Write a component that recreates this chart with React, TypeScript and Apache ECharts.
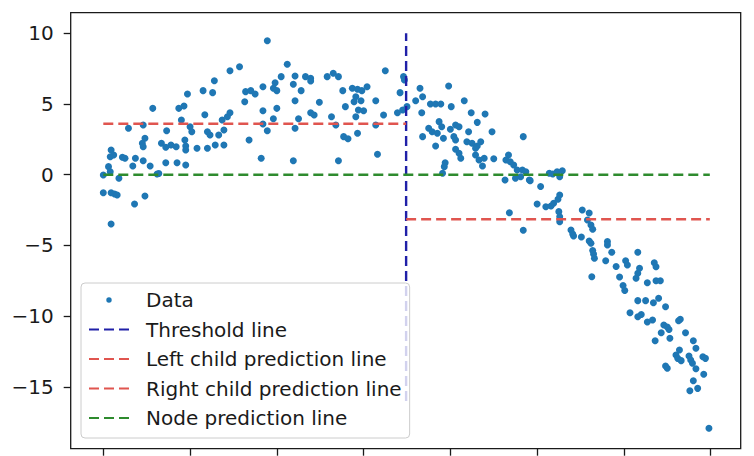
import React, { useEffect, useRef } from "react";
import * as echarts from "echarts";

// Scatter data: [x, y]
const dataPoints: number[][] = [
  [0.0, -1.27], [0.0, -0.02], [0.06, 0.57], [0.08, 0.21], [0.09, 1.75], [0.08, 1.27], [0.12, 1.39],
  [0.09, -1.27], [0.13, -1.36], [0.16, -1.43], [0.18, -0.25], [0.09, -3.48], [0.22, 1.23], [0.25, 1.16],
  [0.29, 3.28], [0.34, 0.61], [0.36, -2.07], [0.37, 1.16], [0.46, 3.51], [0.46, 0.99], [0.48, -1.51],
  [0.48, 2.57], [0.45, 2.22], [0.46, 1.98], [0.54, 0.61], [0.57, 4.69], [0.62, 0.05], [0.64, 0.08],
  [0.67, 2.22], [0.72, 1.94], [0.72, 0.85], [0.73, 3.11], [0.78, 2.1], [0.84, 1.98], [0.85, 0.85],
  [0.87, 4.69], [0.93, 4.86], [0.9, 3.87], [0.94, 2.45], [0.95, 2.03], [0.95, 1.75], [0.95, 0.69],
  [0.97, 5.7], [1.0, 3.39], [1.02, 3.04], [1.08, 1.87], [1.15, 5.94], [1.17, 4.24], [1.2, 3.04],
  [1.23, 2.81], [1.2, 1.87], [1.26, 5.8], [1.28, 6.64], [1.29, 2.1], [1.33, 2.81], [1.39, 3.16],
  [1.39, 2.1], [1.37, 3.87], [1.43, 4.1], [1.46, 4.38], [1.46, 7.35], [1.57, 7.63], [1.63, 5.16],
  [1.64, 5.87], [1.7, 5.94], [1.75, 5.7], [1.68, 2.45], [1.82, 1.16], [1.84, 6.22], [1.84, 4.52],
  [1.84, 3.58], [1.89, 3.11], [1.89, 9.47], [1.96, 3.96], [1.98, 6.5], [1.96, 6.11], [2.0, 5.94],
  [2.0, 4.69], [2.05, 6.93], [2.12, 7.8], [2.19, 6.39], [2.21, 5.23], [2.19, 0.99], [2.21, 6.98],
  [2.21, 3.28], [2.25, 3.96], [2.28, 5.94], [2.33, 6.93], [2.39, 6.81], [2.39, 6.62], [2.39, 4.38],
  [2.43, 4.22], [2.49, 5.12], [2.58, 6.93], [2.65, 7.17], [2.71, 6.93], [2.63, 4.1], [2.68, 3.51],
  [2.71, 0.99], [2.76, 5.94], [2.77, 2.69], [2.82, 2.54], [2.79, 4.81], [2.87, 6.11], [2.93, 6.04],
  [2.98, 5.94], [3.04, 6.22], [2.91, 5.51], [2.89, 5.16], [2.97, 5.23], [2.93, 2.93], [2.94, 4.57],
  [3.0, 4.52], [2.91, 4.1], [3.14, 5.23], [3.14, 3.51], [3.16, 1.44], [3.23, 4.22], [3.25, 7.35],
  [3.39, 4.38], [3.42, 5.8], [3.46, 6.93], [3.45, 4.57], [3.5, 4.81], [3.47, 6.7],
  [3.6, 5.23], [3.65, 6.11], [3.68, 5.51], [3.67, 4.38], [3.68, 2.69], [3.75, 3.28], [3.79, 3.04],
  [3.85, 2.93], [3.92, 2.57], [3.77, 5.0], [3.83, 5.0], [3.89, 5.0], [3.83, 2.03], [3.87, 3.75],
  [3.9, 3.39], [3.98, 6.27], [4.01, 4.81], [4.0, 3.21], [4.06, 3.51], [4.1, 3.39], [4.04, 2.69],
  [4.06, 2.45], [4.06, 1.8], [4.1, 1.51], [4.12, 1.16], [3.94, 0.85], [3.93, 0.57], [3.91, 0.1],
  [4.16, 5.23], [4.21, 3.04], [4.19, 2.33], [4.25, 2.22], [4.31, 2.03], [4.35, 2.33], [4.29, 1.87],
  [4.24, 4.38], [4.31, 3.7], [4.4, 4.29], [4.29, 1.39], [4.33, 1.04], [4.37, 0.61], [4.39, 1.16],
  [4.48, 3.04], [4.5, 1.13], [4.67, 1.39], [4.64, 1.04], [4.69, 0.92], [4.73, 0.69], [4.77, 0.33],
  [4.83, 0.33], [4.87, 0.21], [4.81, -0.14], [4.75, -0.25], [4.63, -0.37], [4.91, -0.37], [4.84, 2.69],
  [5.04, -0.83], [4.92, -0.42], [5.14, 0.1], [5.18, 0.05], [5.23, 0.21], [5.29, 0.28], [5.26, -0.14],
  [5.0, -2.07], [5.1, -2.26], [5.16, -2.21], [5.19, -2.02], [5.24, -1.74], [5.26, -1.43], [5.25, -2.61],
  [5.26, -2.97], [5.26, -3.32], [4.68, -2.69], [4.84, -3.93], [5.52, -2.49], [5.6, -2.71], [5.58, -3.2],
  [5.62, -3.55], [5.64, -3.86], [5.39, -3.91], [5.41, -4.19], [5.42, -4.33], [5.51, -4.4], [5.6, -4.69],
  [5.62, -4.85], [5.81, -4.73], [5.81, -4.97], [5.64, -5.36], [5.65, -5.6], [5.66, -5.91], [5.86, -5.48],
  [6.16, -5.48], [5.79, -6.08], [6.02, -6.08], [6.04, -6.38], [5.91, -6.49], [6.35, -6.22], [6.37, -6.5],
  [6.18, -6.61], [6.16, -6.97], [6.14, -7.32], [5.95, -7.23], [5.63, -7.21], [6.27, -7.63], [6.37, -7.49],
  [6.42, -7.49], [5.99, -7.83], [6.01, -8.18], [6.16, -8.9], [6.25, -8.9], [6.34, -9.05], [6.4, -8.73],
  [6.48, -9.33], [6.07, -9.75], [6.16, -10.04], [6.2, -9.88], [6.27, -10.41], [6.33, -10.27],
  [6.46, -10.62], [6.5, -10.76], [6.52, -10.94], [6.65, -10.22], [6.63, -10.32], [6.43, -11.17],
  [6.36, -11.73], [6.53, -11.56], [6.71, -11.17], [6.8, -11.73], [6.83, -12.27], [6.6, -12.74],
  [6.62, -12.98], [6.66, -13.14], [6.64, -12.39], [6.75, -12.81], [6.77, -13.1], [6.79, -13.33],
  [6.91, -12.86], [6.94, -12.98], [6.48, -13.52], [6.5, -13.68], [6.83, -13.71], [6.92, -14.1],
  [6.8, -14.56], [6.76, -15.27], [6.85, -15.1], [6.98, -17.92],
];

const thresholdX = 3.49;
const thresholdYRange = [-16, 10];
const dataXRange = [0, 6.99];
const leftPrediction = 3.6;
const rightPrediction = -3.15;
const nodePrediction = 0.0;

const xTicks = [0, 1, 2, 3, 4, 5, 6, 7];
const yTicks = [-15, -10, -5, 0, 5, 10];

const seriesNames = [
  "Data",
  "Threshold line",
  "Left child prediction line",
  "Right child prediction line",
  "Node prediction line",
];

const COLORS = {
  data: "#1f77b4",
  threshold: "#2020a8",
  red: "#e0554f",
  green: "#2e8b2e",
};

const DASH = [10, 5];
const FONT = "DejaVu Sans";

export default function App() {
  const ref = useRef<HTMLDivElement>(null);

  useEffect(() => {
    if (!ref.current) return;
    const chart = echarts.init(ref.current, undefined, { renderer: "svg" });

    const dashedLine = (name: string, color: string, data: number[][]) => ({
      name,
      type: "line",
      data,
      symbol: "none",
      showSymbol: false,
      z: 3,
      lineStyle: { color, width: 2.4, type: DASH, cap: "butt" },
      itemStyle: { color },
      silent: true,
    });

    const dotIcon =
      "path://M0,0M40,20M17.3,10a2.7,2.7 0 1,0 5.4,0a2.7,2.7 0 1,0 -5.4,0z";
    const hiddenSymbol = {
      color: "rgba(0,0,0,0)",
      borderColor: "rgba(0,0,0,0)",
      borderWidth: 0,
      opacity: 0,
    };

    const option: any = {
      animation: false,
      backgroundColor: "#ffffff",
      grid: {
        left: 70.7,
        right: 13.3,
        top: 12.7,
        bottom: 7.3,
        show: true,
        borderColor: "#1a1a1a",
        borderWidth: 1.3,
        backgroundColor: "transparent",
      },
      xAxis: {
        type: "value",
        min: -0.3757,
        max: 7.346,
        axisLine: { show: false, onZero: false },
        splitLine: { show: false },
        axisTick: {
          show: true,
          inside: false,
          customValues: xTicks,
          length: 7,
          lineStyle: { color: "#1a1a1a", width: 1.3 },
        },
        axisLabel: { show: false, customValues: xTicks },
      },
      yAxis: {
        type: "value",
        min: -19.364,
        max: 11.449,
        axisLine: { show: false, onZero: false },
        splitLine: { show: false },
        axisTick: {
          show: true,
          inside: false,
          customValues: yTicks,
          length: 7,
          lineStyle: { color: "#1a1a1a", width: 1.3 },
        },
        axisLabel: {
          show: true,
          customValues: yTicks,
          margin: 17,
          fontFamily: FONT,
          fontSize: 20,
          color: "#1a1a1a",
          formatter: (v: number) => String(v).replace("-", "\u2212"),
        },
      },
      legend: {
        show: true,
        orient: "vertical",
        left: 81,
        top: 283,
        padding: [7, 8, 10, 7],
        itemWidth: 40,
        itemHeight: 20,
        itemGap: 9.5,
        selectedMode: false,
        backgroundColor: "rgba(255,255,255,0.8)",
        borderColor: "#cccccc",
        borderWidth: 1,
        borderRadius: 4,
        textStyle: {
          fontFamily: FONT,
          fontSize: 20,
          color: "#1a1a1a",
          lineHeight: 20,
          padding: [0, 0, 0, 12],
        },
        data: [
          { name: seriesNames[0], icon: dotIcon },
          { name: seriesNames[1], itemStyle: hiddenSymbol },
          { name: seriesNames[2], itemStyle: hiddenSymbol },
          { name: seriesNames[3], itemStyle: hiddenSymbol },
          { name: seriesNames[4], itemStyle: hiddenSymbol },
        ],
      },
      series: [
        {
          name: seriesNames[0],
          type: "scatter",
          data: dataPoints,
          symbol: "circle",
          symbolSize: 7,
          itemStyle: { color: COLORS.data, opacity: 1 },
          z: 2,
          silent: true,
        },
        dashedLine(seriesNames[1], COLORS.threshold, [
          [thresholdX, thresholdYRange[0]],
          [thresholdX, thresholdYRange[1]],
        ]),
        dashedLine(seriesNames[2], COLORS.red, [
          [dataXRange[0], leftPrediction],
          [thresholdX, leftPrediction],
        ]),
        dashedLine(seriesNames[3], COLORS.red, [
          [thresholdX, rightPrediction],
          [dataXRange[1], rightPrediction],
        ]),
        dashedLine(seriesNames[4], COLORS.green, [
          [dataXRange[0], nodePrediction],
          [dataXRange[1], nodePrediction],
        ]),
      ],
    };

    chart.setOption(option);
    return () => {
      chart.dispose();
    };
  }, []);

  return (
    <div
      ref={ref}
      style={{ position: "fixed", left: 0, top: 0, width: 754, height: 456, background: "#fff" }}
    />
  );
}
